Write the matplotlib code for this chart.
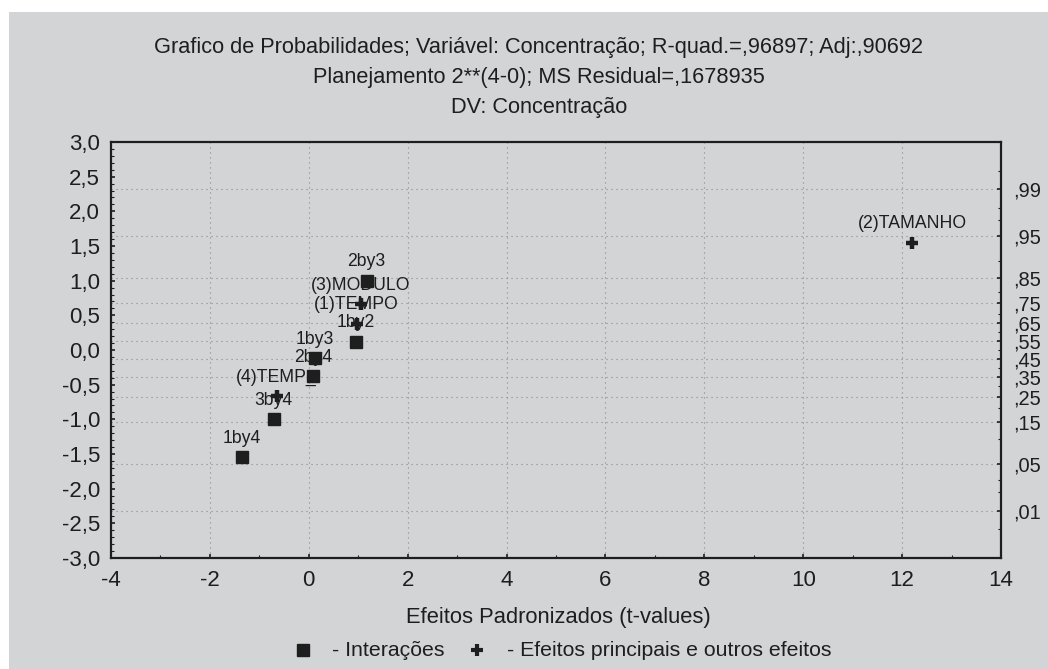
import matplotlib
matplotlib.use('Agg')
import matplotlib.pyplot as plt
from matplotlib.patches import Rectangle
from matplotlib.lines import Line2D
from matplotlib.ticker import FixedLocator, FuncFormatter, MultipleLocator
from statistics import NormalDist

plt.rcParams['font.family'] = ['Liberation Sans', 'DejaVu Sans']
plt.rcParams['axes.unicode_minus'] = False

# effects
effects = ['1by4', '3by4', '(4)TEMP_', '2by4', '1by3', '1by2',
           '(1)TEMPO', '(3)MODULO', '2by3', '(2)TAMANHO']
t_values = [-1.35, -0.71, -0.65, 0.08, 0.13, 0.95, 0.97, 1.05, 1.17, 12.2]
expected = [-1.55, -1.00, -0.66, -0.38, -0.12, 0.12, 0.38, 0.66, 1.00, 1.55]
is_main = [False, False, True, False, False, False, True, True, False, True]

prob_ticks = [0.01, 0.05, 0.15, 0.25, 0.35, 0.45, 0.55, 0.65, 0.75, 0.85, 0.95, 0.99]
prob_minor = [0.005, 0.02, 0.03, 0.1, 0.2, 0.3, 0.4, 0.5, 0.6, 0.7, 0.8, 0.9,
              0.97, 0.98, 0.995]

legend_labels = ['- Interações', '- Efeitos principais e outros efeitos']

bg = '#d3d4d6'
ink = '#1e1e1e'
fs = 16

W, H = 1048, 669
fig = plt.figure(figsize=(W / 100, H / 100), dpi=100, facecolor='white')
fig.patches.append(Rectangle((9 / W, 0), 1 - 9 / W, 1 - 12 / H,
                             transform=fig.transFigure, facecolor=bg,
                             edgecolor='none', zorder=-10))

ax = fig.add_axes([111 / W, 1 - 558 / H, 890 / W, 416 / H])
ax.set_facecolor(bg)
ax.set_xlim(-4, 14)
ax.set_ylim(-3, 3)

nd = NormalDist()
z_major = [nd.inv_cdf(p) for p in prob_ticks]
z_minor = [nd.inv_cdf(p) for p in prob_minor]

# grid: vertical at even x, horizontal at probability levels
for xv in range(-2, 14, 2):
    ax.axvline(xv, color='#8a8a8a', lw=0.8, ls=(0, (1, 3.5)), zorder=0)
for zv in z_major:
    ax.axhline(zv, color='#8a8a8a', lw=0.8, ls=(0, (1, 3.5)), zorder=0)

for lab, x, y, m in zip(effects, t_values, expected, is_main):
    if m:
        ax.plot(x, y, marker='+', ms=9, mew=3.2, color=ink, ls='none', zorder=5)
    else:
        ax.plot(x, y, marker='s', ms=9, color=ink, ls='none', zorder=5)
    ax.annotate(lab, (x, y), xytext=(0, 13.5), textcoords='offset points',
                ha='center', va='center', fontsize=12.7, color=ink, zorder=3)

ax.xaxis.set_major_locator(MultipleLocator(2))
ax.xaxis.set_minor_locator(MultipleLocator(1))
ax.yaxis.set_major_locator(MultipleLocator(0.5))
ax.yaxis.set_minor_locator(MultipleLocator(0.1))
ax.yaxis.set_major_formatter(FuncFormatter(lambda v, p: f'{v:.1f}'.replace('.', ',').replace('-0,0', '0,0')))
ax.tick_params(which='both', direction='in', colors=ink, labelsize=fs, labelcolor=ink)
ax.tick_params(which='major', length=3, width=1.2)
ax.tick_params(which='minor', length=2, width=0.8)
ax.tick_params(axis='y', pad=8)
ax.tick_params(axis='x', pad=9)
for s in ax.spines.values():
    s.set_color(ink)
    s.set_linewidth(1.6)

ax2 = ax.twinx()
ax2.set_ylim(-3, 3)
ax2.yaxis.set_major_locator(FixedLocator(z_major))
ax2.yaxis.set_minor_locator(FixedLocator(z_minor))
ax2.set_yticklabels([f'{p:.2f}'[1:].replace('.', ',') for p in prob_ticks])
ax2.tick_params(which='both', direction='in', colors=ink, labelsize=14.5, labelcolor=ink)
ax2.tick_params(which='major', length=3, width=1.2, pad=9)
ax2.tick_params(which='minor', length=2, width=0.8)
for s in ax2.spines.values():
    s.set_visible(False)

fig.text(539 / W, 1 - 47 / H, 'Grafico de Probabilidades; Variável: Concentração; R-quad.=,96897; Adj:,90692',
         ha='center', va='center', fontsize=15.7, color=ink)
fig.text(539 / W, 1 - 78 / H, 'Planejamento 2**(4-0); MS Residual=,1678935',
         ha='center', va='center', fontsize=15.7, color=ink)
fig.text(539 / W, 1 - 107 / H, 'DV: Concentração',
         ha='center', va='center', fontsize=15.7, color=ink)

fig.text(558 / W, 1 - 617 / H, 'Efeitos Padronizados (t-values)',
         ha='center', va='center', fontsize=15.8, color=ink)

# legend row drawn by hand to keep the spacing of the original
ly = 1 - 650 / H
fig.add_artist(Line2D([303 / W], [ly], marker='s', ms=8.5, color=ink, ls='none'))
fig.text(332 / W, ly, legend_labels[0], ha='left', va='center', fontsize=15.3, color=ink)
fig.add_artist(Line2D([477 / W], [ly], marker='+', ms=8, mew=3, color=ink, ls='none'))
fig.text(507 / W, ly, legend_labels[1], ha='left', va='center', fontsize=15.3, color=ink)

fig.savefig('out.png', dpi=100, facecolor='white')
